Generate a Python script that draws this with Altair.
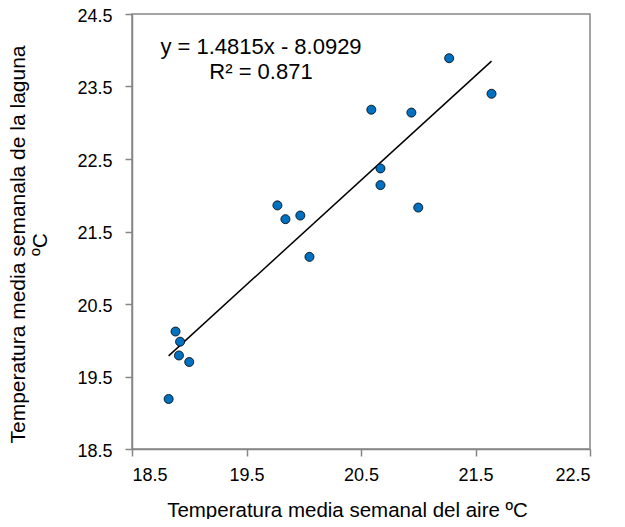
import altair as alt
import pandas as pd

# Weekly mean air temperature (x) and lagoon temperature (y), in ºC
air_temp = [21.27, 21.64, 20.59, 20.94, 20.67, 20.67, 21.00, 19.77,
            19.84, 19.97, 20.05, 18.88, 18.92, 18.91, 19.00, 18.82]
lagoon_temp = [23.89, 23.40, 23.18, 23.14, 22.37, 22.14, 21.83, 21.86,
               21.67, 21.72, 21.15, 20.12, 19.98, 19.79, 19.70, 19.19]

x_ticks = [18.5, 19.5, 20.5, 21.5, 22.5]
y_ticks = [18.5, 19.5, 20.5, 21.5, 22.5, 23.5, 24.5]

equation_lines = ["y = 1.4815x - 8.0929", "R² = 0.871"]

x_title = "Temperatura media semanal del aire ºC"
y_title = ["Temperatura media semanala de la laguna", "ºC"]

FONT = "Liberation Sans"
GREY = "#868686"

df = pd.DataFrame({"air": air_temp, "lagoon": lagoon_temp})

x_scale = alt.Scale(domain=[x_ticks[0], x_ticks[-1]], nice=False, zero=False)
y_scale = alt.Scale(domain=[y_ticks[0], y_ticks[-1]], nice=False, zero=False)

x_axis = alt.Axis(
    values=x_ticks, format=".1f", title=x_title, titleFontSize=20.5,
    titleX=215, titleY=67, titleBaseline="alphabetic", titleAlign="center",
    labelPadding=10,
)
y_axis = alt.Axis(
    values=y_ticks, format=".1f", title=y_title, titleFontSize=21,
    titleX=-107.5, titleY=230, titleBaseline="alphabetic", titleAlign="center",
    titleAngle=-90, titleLineHeight=21.5, labelPadding=13, labelOffset=2,
)

points = alt.Chart(df).mark_point(
    filled=True, fill="#0070C0", stroke="#000000", strokeWidth=0.8,
    size=82, opacity=1, shape="circle",
).encode(
    x=alt.X("air:Q", scale=x_scale, axis=x_axis),
    y=alt.Y("lagoon:Q", scale=y_scale, axis=y_axis),
)

trend = alt.Chart(df).transform_regression(
    "air", "lagoon", method="linear"
).mark_line(color="#000000", strokeWidth=1.5).encode(
    x=alt.X("air:Q", scale=x_scale, axis=x_axis),
    y=alt.Y("lagoon:Q", scale=y_scale, axis=y_axis),
)

ann1 = alt.Chart(pd.DataFrame({"text": [equation_lines[0]]})).mark_text(
    font=FONT, fontSize=22, color="#000000", align="center", baseline="middle"
).encode(text="text:N", x=alt.value(129), y=alt.value(33))

ann2 = alt.Chart(pd.DataFrame({"text": [equation_lines[1]]})).mark_text(
    font=FONT, fontSize=22, color="#000000", align="center", baseline="middle"
).encode(text="text:N", x=alt.value(129), y=alt.value(58))

chart = alt.layer(trend, points, ann1, ann2).properties(
    width=458,
    height=435,
    autosize=alt.AutoSizeParams(type="none"),
    padding={"left": 124, "top": 6, "right": 27, "bottom": 70},
    background="#ffffff",
).configure_view(
    stroke=GREY, strokeWidth=1.5
).configure_axis(
    labelFont=FONT, labelFontSize=18, labelColor="#000000",
    titleFont=FONT, titleColor="#000000", titleFontWeight="normal",
    domainColor=GREY, domainWidth=1.5, tickColor=GREY, tickWidth=1.5, tickSize=7,
    grid=False,
)

chart.save("out.html", embed_options={"renderer": "svg", "actions": False})
